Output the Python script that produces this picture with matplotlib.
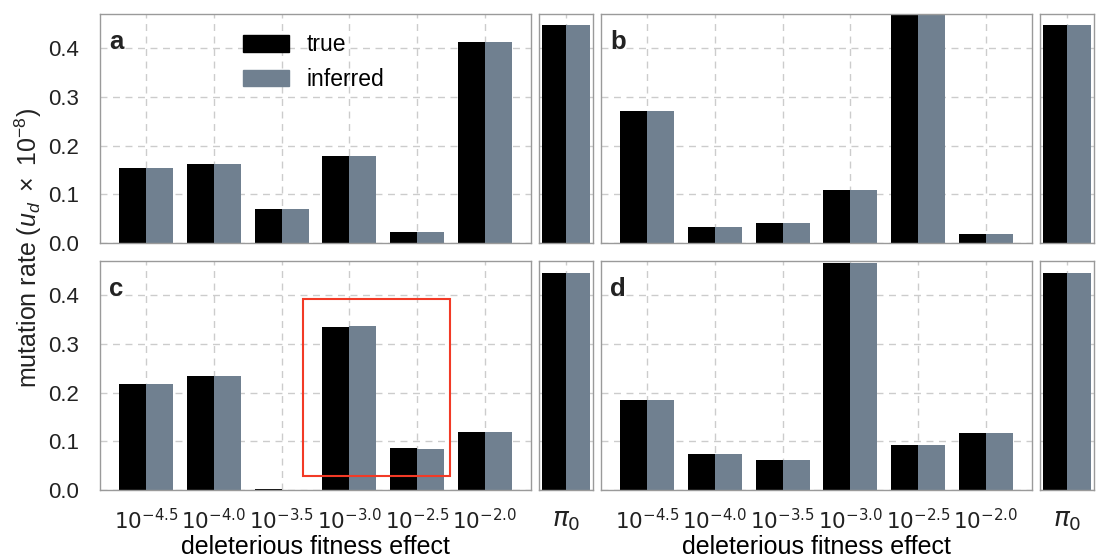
import matplotlib
matplotlib.use("Agg")
import numpy as np
import matplotlib.pyplot as plt
from matplotlib.patches import Rectangle

plt.rcParams['font.family'] = ['Liberation Sans', 'DejaVu Sans']
plt.rcParams['mathtext.fontset'] = 'custom'
plt.rcParams['mathtext.rm'] = 'Liberation Sans'
plt.rcParams['mathtext.it'] = 'Liberation Sans:italic'

# data
exponents = ["-4.5", "-4.0", "-3.5", "-3.0", "-2.5", "-2.0"]
tick_labels = [r"$10^{%s}$" % e for e in exponents]

true_a = [0.153, 0.162, 0.070, 0.178, 0.023, 0.412]
inferred_a = [0.153, 0.162, 0.070, 0.178, 0.023, 0.412]
pi_a = [0.447, 0.447]

true_b = [0.270, 0.033, 0.042, 0.109, 0.500, 0.018]
inferred_b = [0.270, 0.033, 0.042, 0.109, 0.500, 0.018]
pi_b = [0.447, 0.447]

true_c = [0.218, 0.233, 0.002, 0.335, 0.087, 0.119]
inferred_c = [0.218, 0.234, 0.0005, 0.337, 0.085, 0.119]
pi_c = [0.446, 0.446]

true_d = [0.185, 0.073, 0.062, 0.465, 0.093, 0.116]
inferred_d = [0.185, 0.073, 0.062, 0.465, 0.093, 0.116]
pi_d = [0.446, 0.446]

# highlighted region in panel c (data coords)
box_x = [2.31, 4.49]
box_y = [0.029, 0.393]

W, H = 1099, 557
fig = plt.figure(figsize=(W / 100, H / 100), dpi=100)

col_true = "black"
col_inf = "#708090"
spine_col = "#9a9a9a"
grid_col = "#cccccc"
bw = 0.4


def px_axes(x0, y0, w, h):
    return fig.add_axes([x0 / W, 1 - (y0 + h) / H, w / W, h / H])


def style(ax):
    for s in ax.spines.values():
        s.set_color(spine_col)
        s.set_linewidth(1.0)
    ax.tick_params(length=0, labelsize=16, colors="#222222")
    ax.tick_params(axis="y", pad=15)
    ax.tick_params(axis="x", pad=14)
    ax.set_axisbelow(True)
    ax.grid(True, linestyle=(0, (5, 4)), color=grid_col, linewidth=1.0)
    ax.set_ylim(0, 0.47)
    ax.set_yticks([0.0, 0.1, 0.2, 0.3, 0.4])


def main_panel(x0, y0, tv, iv, letter, left, bottom):
    ax = px_axes(x0, y0, 431, 229)
    x = np.arange(len(tv))
    ax.bar(x - bw / 2, tv, bw, color=col_true, linewidth=0)
    ax.bar(x + bw / 2, iv, bw, color=col_inf, linewidth=0)
    style(ax)
    ax.set_xlim(-0.684, 5.684)
    ax.set_xticks(x)
    if bottom:
        labs = ax.set_xticklabels(tick_labels, fontsize=15.5)
        for t in labs:
            t.set_math_fontfamily("dejavusans")
        ax.set_xlabel("deleterious fitness effect", fontsize=18, labelpad=0)
    else:
        ax.set_xticklabels([])
    if not left:
        ax.set_yticklabels([])
    else:
        ax.set_yticklabels(["0.0", "0.1", "0.2", "0.3", "0.4"])
    ax.text(0.022, 0.93, letter, transform=ax.transAxes, fontsize=18.5,
            fontweight="bold", va="top", ha="left", color="#222222")
    return ax


def pi_panel(x0, y0, pv, bottom):
    ax = px_axes(x0, y0, 54, 229)
    ax.bar([-bw / 2], [pv[0]], bw, color=col_true, linewidth=0)
    ax.bar([bw / 2], [pv[1]], bw, color=col_inf, linewidth=0)
    style(ax)
    ax.set_xlim(-0.449, 0.449)
    ax.set_xticks([0])
    ax.set_yticklabels([])
    if bottom:
        labs = ax.set_xticklabels([r"$\pi_0$"], fontsize=19)
        for t in labs:
            t.set_math_fontfamily("dejavusans")
    else:
        ax.set_xticklabels([])
    return ax


ax_a = main_panel(100, 14, true_a, inferred_a, "a", True, False)
pi_panel(539, 14, pi_a, False)
ax_b = main_panel(601, 14, true_b, inferred_b, "b", False, False)
pi_panel(1040, 14, pi_b, False)
ax_c = main_panel(100, 261, true_c, inferred_c, "c", True, True)
pi_panel(539, 261, pi_c, True)
ax_d = main_panel(601, 261, true_d, inferred_d, "d", False, True)
pi_panel(1040, 261, pi_d, True)

ax_c.add_patch(Rectangle((box_x[0], box_y[0]), box_x[1] - box_x[0], box_y[1] - box_y[0],
                         fill=False, edgecolor="#f23a26", linewidth=1.5, zorder=5))

h1 = Rectangle((0, 0), 1, 1, color=col_true)
h2 = Rectangle((0, 0), 1, 1, color=col_inf)
ax_a.legend([h1, h2], ["true", "inferred"], loc="upper left",
            bbox_to_anchor=(0.285, 1.005), frameon=False, fontsize=16.5,
            handlelength=2.0, handleheight=0.75, labelspacing=0.5, handletextpad=0.75)

fig.text(0.026, 0.555, r"mutation rate ($u_d\ \times\ 10^{-8}$)", rotation=90,
         va="center", ha="center", fontsize=18, color="#222222")

fig.savefig("out.png", dpi=100)
